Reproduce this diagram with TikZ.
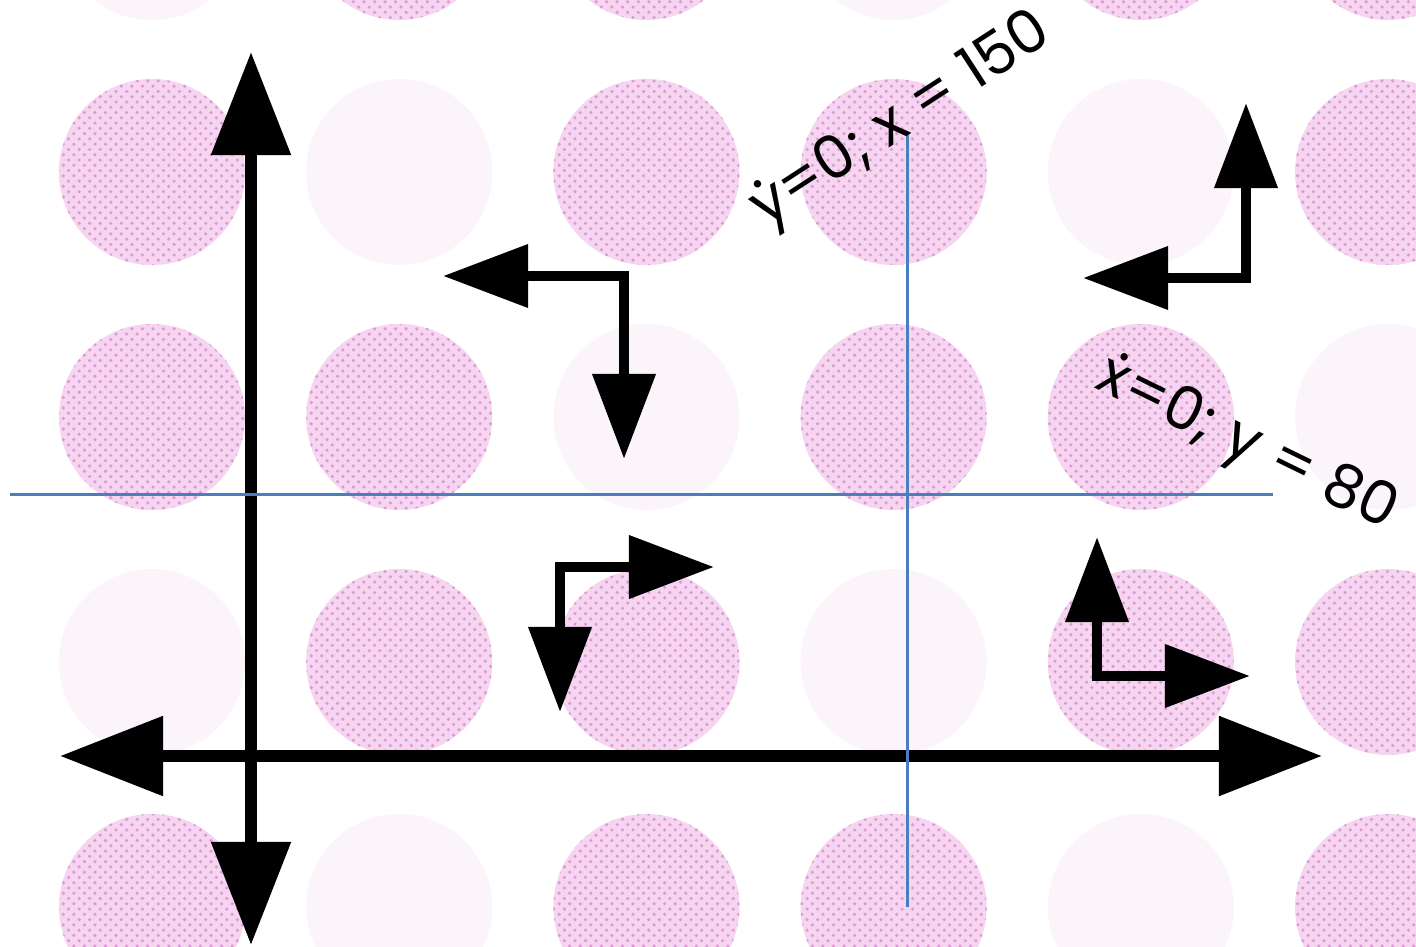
\documentclass[tikz,border=0pt]{standalone}
\usepackage{fontspec}
\setmainfont{Poppins}
\usetikzlibrary{arrows.meta,patterns}

\definecolor{cellpink}{RGB}{245,213,240}
\definecolor{cellspeck}{RGB}{224,152,212}
\definecolor{cellpale}{RGB}{252,244,251}
\definecolor{nullblue}{RGB}{74,126,193}

\newcommand\dotabove[1]{\setbox0\hbox{#1}\rlap{\hbox to\wd0{\hss\raisebox{0.62em}{.}\hss}}\box0}

\begin{document}
\begin{tikzpicture}[x=0.01cm,y=-0.01cm,
bighead/.tip={Triangle[length=1.03cm,width=0.77cm]},
smallhead/.tip={Triangle[length=0.85cm,width=0.61cm]},
axis/.style={line width=0.12cm,bighead-bighead},
turn/.style={line width=0.105cm,smallhead-smallhead},
nullcline/.style={nullblue,line width=0.03cm},
cell/.style={fill=cellpink,postaction={pattern=crosshatch dots,pattern color=cellspeck}},
ghost/.style={fill=cellpale},
eqlabel/.style={font=\fontsize{17}{20}\selectfont,inner sep=0pt}]

\useasboundingbox (0,0) rectangle (1416,946);
\clip (0,0) rectangle (1416,946);
\fill[white] (0,0) rectangle (1416,946);

% background blobs
\foreach \c in {-1,...,5}
  \foreach \r in {-1,...,3}{
    \pgfmathtruncatemacro\shade{mod(\c-\r+9,3)}
    \ifnum\shade=1
      \fill[ghost] (152+247.2*\c,172+245*\r) circle[radius=93];
    \else
      \fill[cell] (152+247.2*\c,172+245*\r) circle[radius=93];
    \fi
  }

\coordinate (O) at (251,756);
\coordinate (xneg) at (60,756);
\coordinate (xpos) at (1322,756);
\coordinate (ypos) at (251,52);
\coordinate (yneg) at (251,945);

\draw[axis] (xneg) -- (xpos);
\draw[axis] (yneg) -- (ypos);

\coordinate (q1) at (624,276);
\coordinate (q1w) at (443,276);
\coordinate (q1s) at (624,459);
\draw[turn] (q1w) -- (q1) -- (q1s);

\coordinate (q2) at (1246,278);
\coordinate (q2w) at (1083,278);
\coordinate (q2n) at (1246,103);
\draw[turn] (q2w) -- (q2) -- (q2n);

\coordinate (q3) at (560,567);
\coordinate (q3e) at (714,567);
\coordinate (q3s) at (560,712);
\draw[turn] (q3e) -- (q3) -- (q3s);

\coordinate (q4) at (1097,676);
\coordinate (q4n) at (1097,537);
\coordinate (q4e) at (1250,676);
\draw[turn] (q4n) -- (q4) -- (q4e);

\coordinate (hw) at (10,494);
\coordinate (he) at (1273,494);
\coordinate (vn) at (907,132);
\coordinate (vs) at (907,907);
\draw[nullcline] (hw) -- (he);
\draw[nullcline] (vn) -- (vs);

\node[eqlabel,rotate=33] (ynull) at (902,122) {\dotabove{y}=0; x = 150};
\node[eqlabel,rotate=-26] (xnull) at (1246,446) {\dotabove{x}=0; y = 80};

\end{tikzpicture}
\end{document}
